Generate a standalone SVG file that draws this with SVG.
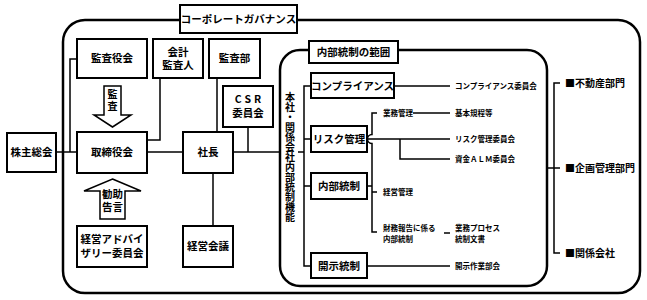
<svg xmlns="http://www.w3.org/2000/svg" width="647" height="300" viewBox="0 0 647 300">
<style>
text{font-family:"Noto Sans CJK JP","Noto Sans",sans-serif;font-weight:700;fill:#000}
.box{fill:#fff;stroke:#000;stroke-width:2}
.lbl{font-size:10.5px;text-anchor:middle}
.sm{font-size:7.5px}
.side{font-size:10px}
.ln{fill:none;stroke:#000;stroke-width:1.5}
.frame{fill:none;stroke:#000;stroke-width:2.5}
.arrow{fill:#fff;stroke:#000;stroke-width:1.5}
.vert{font-size:10px;writing-mode:vertical-rl}
</style>
<rect width="647" height="300" fill="#fff"/>
<g id="frames">
<rect class="frame" x="63" y="20" width="577" height="273" rx="22"/>
<rect class="frame" x="280" y="50" width="267" height="236" rx="20" stroke-width="2"/>
</g>
<g id="connectors">
<path class="ln" d="M56 152H77"/>
<path class="ln" d="M77 59H70V152"/>
<path class="ln" d="M160 78V140H147"/>
<path class="ln" d="M147 152H183"/>
<path class="ln" d="M217 78V132"/>
<path class="ln" d="M233 152H280"/>
<path class="ln" d="M248 127V152"/>
<path class="ln" d="M213 173V226"/>
<path class="ln" d="M298 152H304"/>
<path class="ln" d="M311 86H304V266H311M304 139H311M304 186H311"/>
<path class="ln" d="M394 86H450"/>
<path class="ln" d="M367 139H450M400 139V159H450"/>
<path class="ln" d="M377 113H372V134.5A4.5 4.5 0 0 0 372 143.5V232H377M367 186H372M372 192H377"/>
<path class="ln" d="M413 113H450"/>
<path class="ln" d="M444 233H450"/>
<path class="ln" d="M367 266H450"/>
<path class="ln" d="M560 83H554V253H560M547 168H560"/>
</g>
<g id="title"><rect class="box" x="180" y="5" width="117" height="28" stroke-width="2.5"/><text class="lbl" x="238.5" y="23" font-size="10px">コーポレートガバナンス</text></g>
<g id="kabunushi"><rect class="box" x="7" y="133" width="49" height="39"/><text class="lbl" x="31.5" y="156">株主総会</text></g>
<g id="kansayakukai"><rect class="box" x="77" y="39" width="70" height="39"/><text class="lbl" x="112" y="62">監査役会</text></g>
<g id="kaikei"><rect class="box" x="153" y="39" width="50" height="39"/><text class="lbl" font-size="10px"><tspan x="178" y="55.5">会計</tspan><tspan x="178" y="69">監査人</tspan></text></g>
<g id="kansabu"><rect class="box" x="209" y="39" width="51" height="39"/><text class="lbl" x="234.5" y="62">監査部</text></g>
<g id="csr"><rect class="box" x="223" y="86" width="50" height="41"/><text class="lbl"><tspan x="249.5" y="103" letter-spacing="3">CSR</tspan><tspan x="248" y="117">委員会</tspan></text></g>
<g id="torishimari"><rect class="box" x="77" y="132" width="70" height="41"/><text class="lbl" x="112" y="156">取締役会</text></g>
<g id="shacho"><rect class="box" x="183" y="132" width="50" height="41"/><text class="lbl" x="208" y="156">社長</text></g>
<g id="kansa-arrow"><polygon class="arrow" points="104,86 121,86 121,115 131,115 112.5,127 94,115 104,115"/><text class="vert" x="112.5" y="89" font-size="10.5px" letter-spacing="2">監査</text></g>
<g id="kankoku-arrow"><polygon class="arrow" points="112.5,179 141,191 125,191 125,219 100,219 100,191 84,191"/><text class="lbl" font-size="10px"><tspan x="112.5" y="197.5">勧助</tspan><tspan x="112.5" y="211">告言</tspan></text></g>
<g id="advisory"><rect class="box" x="77" y="226" width="70" height="41"/><text class="lbl"><tspan x="112" y="243">経営アドバイ</tspan><tspan x="112" y="257">ザリー委員会</tspan></text></g>
<g id="keieikaigi"><rect class="box" x="183" y="226" width="50" height="41"/><text class="lbl" x="208" y="250">経営会議</text></g>
<g id="vertical-label"><text class="vert" x="290" y="92">本社・関係会社内部統制機能</text></g>
<g id="hani"><rect class="box" x="309" y="41" width="89" height="22"/><text class="lbl" x="353.5" y="56">内部統制の範囲</text></g>
<g id="compliance"><rect class="box" x="311" y="73" width="83" height="25"/><text class="lbl" x="352.5" y="90">コンプライアンス</text></g>
<g id="risk"><rect class="box" x="311" y="126" width="56" height="26"/><text class="lbl" x="339" y="143">リスク管理</text></g>
<g id="naibu"><rect class="box" x="311" y="173" width="56" height="26"/><text class="lbl" x="339" y="190">内部統制</text></g>
<g id="kaiji"><rect class="box" x="311" y="253" width="56" height="25"/><text class="lbl" x="339" y="270">開示統制</text></g>
<g id="small-labels">
<text class="sm" x="455" y="89">コンプライアンス委員会</text>
<text class="sm" x="383" y="116">業務管理</text>
<text class="sm" x="455" y="116">基本規程等</text>
<text class="sm" x="455" y="142">リスク管理委員会</text>
<text class="sm" x="455" y="162">資金ＡＬＭ委員会</text>
<text class="sm" x="383" y="195">経営管理</text>
<text class="sm"><tspan x="383" y="231">財務報告に係る</tspan><tspan x="383" y="242">内部統制</tspan></text>
<text class="sm"><tspan x="455" y="231">業務プロセス</tspan><tspan x="455" y="242">統制文書</tspan></text>
<text class="sm" x="455" y="269">開示作業部会</text>
</g>
<g id="departments">
<text class="side" x="565" y="87">■不動産部門</text>
<text class="side" x="565" y="172">■企画管理部門</text>
<text class="side" x="565" y="257">■関係会社</text>
</g>
</svg>
